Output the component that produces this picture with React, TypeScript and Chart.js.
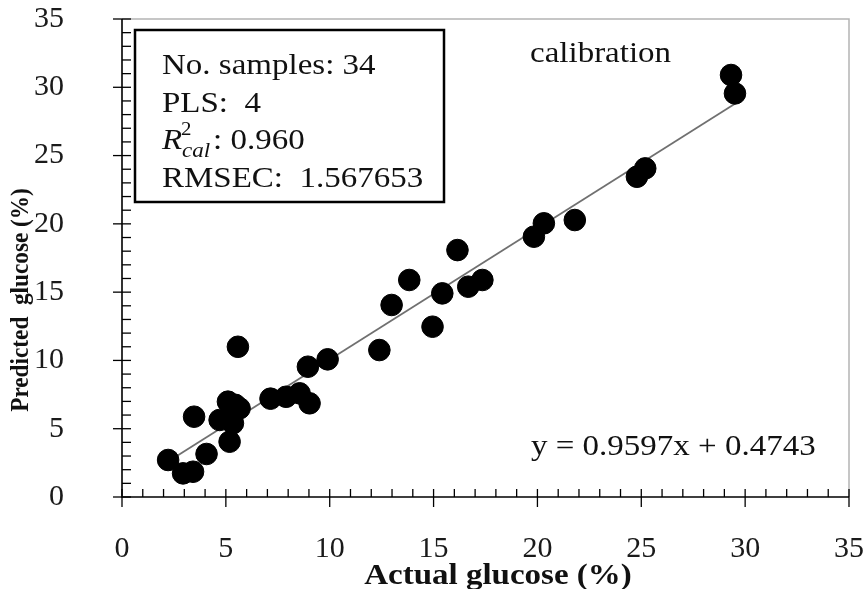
import { useEffect, useRef } from "react";
import { Chart, registerables } from "chart.js";

Chart.register(...registerables);

// ---- data ----
const actualGlucose = [
  2.22, 2.94, 3.42, 3.47, 4.07, 4.7, 5.1, 5.18, 5.3, 5.34, 5.58, 5.66, 5.45, 7.15, 7.9, 8.55, 8.95,
  9.03, 9.9, 12.39, 12.98, 13.83, 14.95, 15.42, 16.15, 16.67, 17.35, 19.83, 20.31, 21.8, 24.79,
  25.19, 29.32, 29.51,
];
const predictedGlucose = [
  2.71, 1.73, 1.85, 5.88, 3.15, 5.64, 6.98, 4.05, 6.1, 5.4, 11.0, 6.49, 6.75, 7.2, 7.34, 7.59,
  9.54, 6.86, 10.08, 10.76, 14.06, 15.89, 12.47, 14.91, 18.08, 15.4, 15.89, 19.06, 20.04, 20.28,
  23.45, 24.06, 30.9, 29.55,
];
const fitSlope = 0.9597;
const fitIntercept = 0.4743;

const axisMin = 0;
const axisMax = 35;
const majorStep = 5;
const minorStep = 1;

const xTitle = "Actual glucose (%)";
const yTitle = "Predicted  glucose (%)";
const panelLabel = "calibration";
const equationText = "y = 0.9597x + 0.4743";
const statsSamples = "No. samples: 34";
const statsPls = "PLS:  4";
const statsR2Value = ": 0.960";
const statsRmsec = "RMSEC:  1.567653";

const SERIF = '"Liberation Serif", "Times New Roman", serif';
const STRETCH = 1.1;

function drawStretched(ctx: CanvasRenderingContext2D, text: string, x: number, y: number, sx = STRETCH) {
  ctx.save();
  ctx.translate(x, y);
  ctx.scale(sx, 1);
  ctx.fillText(text, 0, 0);
  ctx.restore();
}

const decorPlugin = {
  id: "decor",
  beforeDatasetsDraw(chart: any) {
    const { ctx, chartArea: ca } = chart;
    ctx.save();
    ctx.strokeStyle = "#b4b4b4";
    ctx.lineWidth = 1.5;
    ctx.beginPath();
    ctx.moveTo(ca.left, ca.top);
    ctx.lineTo(ca.right, ca.top);
    ctx.lineTo(ca.right, ca.bottom);
    ctx.stroke();
    ctx.restore();
  },
  afterDatasetsDraw(chart: any) {
    const { ctx, chartArea: ca, scales } = chart;
    const xs = scales.x;
    const ys = scales.y;
    ctx.save();
    ctx.strokeStyle = "#000";
    ctx.lineWidth = 1.6;
    ctx.beginPath();
    ctx.moveTo(ca.left, ca.top);
    ctx.lineTo(ca.left, ca.bottom);
    ctx.lineTo(ca.right, ca.bottom);
    ctx.stroke();
    ctx.lineWidth = 1.3;
    for (let v = axisMin; v <= axisMax + 1e-9; v += minorStep) {
      const major = Math.abs(v % majorStep) < 1e-9;
      const px = xs.getPixelForValue(v);
      ctx.beginPath();
      ctx.moveTo(px, ca.bottom - 8);
      ctx.lineTo(px, ca.bottom + (major ? 10 : 0));
      ctx.stroke();
      const py = ys.getPixelForValue(v);
      ctx.beginPath();
      ctx.moveTo(ca.left + 9, py);
      ctx.lineTo(ca.left - (major ? 9 : 0), py);
      ctx.stroke();
    }
    ctx.restore();
  },
  afterDraw(chart: any) {
    const { ctx } = chart;
    ctx.save();
    ctx.fillStyle = "#111";
    // axis titles
    ctx.font = `bold 25px ${SERIF}`;
    ctx.textAlign = "center";
    ctx.textBaseline = "middle";
    ctx.save();
    ctx.translate(22, 300);
    ctx.rotate(-Math.PI / 2);
    ctx.scale(0.93, 1);
    ctx.fillText(yTitle, 0, 0);
    ctx.restore();
    ctx.font = `bold 30px ${SERIF}`;
    drawStretched(ctx, xTitle, 498, 576);

    // stats box
    ctx.fillStyle = "#fff";
    ctx.fillRect(135, 30, 309, 172);
    ctx.strokeStyle = "#000";
    ctx.lineWidth = 2.5;
    ctx.strokeRect(135, 30, 309, 172);
    ctx.fillStyle = "#111";
    ctx.textAlign = "left";
    ctx.textBaseline = "alphabetic";
    ctx.font = `30px ${SERIF}`;
    drawStretched(ctx, statsSamples, 162, 74);
    drawStretched(ctx, statsPls, 162, 112);
    ctx.font = `italic 30px ${SERIF}`;
    drawStretched(ctx, "R", 162, 149);
    ctx.font = `19px ${SERIF}`;
    drawStretched(ctx, "2", 181, 135);
    ctx.font = `italic 21px ${SERIF}`;
    drawStretched(ctx, "cal", 182, 157);
    ctx.font = `30px ${SERIF}`;
    drawStretched(ctx, statsR2Value, 213, 149);
    drawStretched(ctx, statsRmsec, 162, 187);

    // panel label and equation
    ctx.font = `30px ${SERIF}`;
    drawStretched(ctx, panelLabel, 530, 62);
    drawStretched(ctx, equationText, 531, 455);
    ctx.restore();
  },
};

function zeroPadding(s: any) {
  s.paddingTop = 0;
  s.paddingBottom = 0;
  s.paddingLeft = 0;
  s.paddingRight = 0;
}

export default function App() {
  const canvasRef = useRef<HTMLCanvasElement | null>(null);

  useEffect(() => {
    if (!canvasRef.current) return;
    const points = actualGlucose.map((x, i) => ({ x, y: predictedGlucose[i] }));
    const xLo = Math.min(...actualGlucose);
    const xHi = Math.max(...actualGlucose);
    const fitLine = [
      { x: xLo, y: fitSlope * xLo + fitIntercept },
      { x: xHi, y: fitSlope * xHi + fitIntercept },
    ];
    const tickFont = { family: SERIF, size: 30 };
    const chart = new Chart(canvasRef.current, {
      type: "scatter",
      data: {
        datasets: [
          {
            label: "samples",
            data: points,
            backgroundColor: "#000",
            borderColor: "#000",
            pointRadius: 10.8,
            pointHoverRadius: 10.8,
            order: 1,
          },
          {
            type: "line",
            label: "fit",
            data: fitLine,
            borderColor: "#707070",
            borderWidth: 1.8,
            pointRadius: 0,
            fill: false,
            order: 2,
          } as any,
        ],
      },
      options: {
        animation: false,
        responsive: false,
        maintainAspectRatio: false,
        layout: { padding: { top: 19, right: 19, left: 0, bottom: 0 } },
        plugins: { legend: { display: false }, tooltip: { enabled: false }, title: { display: false } },
        scales: {
          x: {
            type: "linear",
            min: axisMin,
            max: axisMax,
            grid: { display: false, drawTicks: false },
            border: { display: false },
            ticks: { stepSize: majorStep, font: tickFont, color: "#1a1a1a", padding: 34, maxRotation: 0 },
            afterFit: (s: any) => {
              s.height = 92;
              zeroPadding(s);
            },
          },
          y: {
            type: "linear",
            min: axisMin,
            max: axisMax,
            grid: { display: false, drawTicks: false },
            border: { display: false },
            ticks: { stepSize: majorStep, font: tickFont, color: "#1a1a1a", padding: 58 },
            afterFit: (s: any) => {
              s.width = 122;
              zeroPadding(s);
            },
          },
        },
      },
      plugins: [decorPlugin],
    });
    return () => chart.destroy();
  }, []);

  return (
    <div style={{ position: "fixed", left: 0, top: 0, width: 868, height: 589, background: "#fff" }}>
      <canvas ref={canvasRef} width={868} height={589} style={{ display: "block" }} />
    </div>
  );
}
